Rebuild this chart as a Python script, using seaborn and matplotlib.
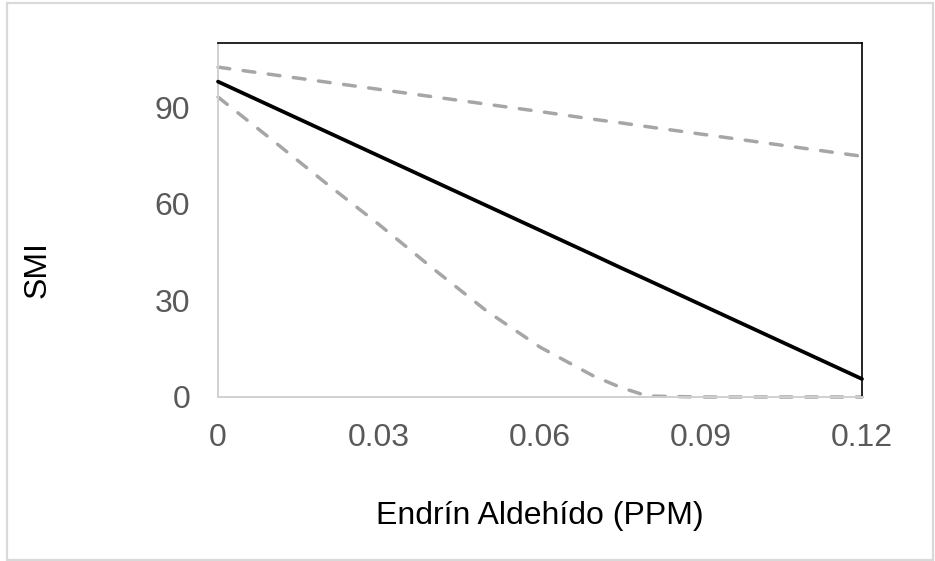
import numpy as np
import pandas as pd
import seaborn as sns
import matplotlib as mpl
import matplotlib.pyplot as plt
from matplotlib.patches import Rectangle

# Data
conc = [0.00, 0.01, 0.02, 0.03, 0.04, 0.05, 0.06, 0.07, 0.075, 0.08, 0.09, 0.10, 0.11, 0.12]
smi_fit = [98.0, 90.3, 82.6, 74.9, 67.2, 59.5, 51.8, 44.1, 40.2, 36.4, 28.7, 21.0, 13.3, 5.6]
smi_upper = [102.5, 100.2, 97.9, 95.6, 93.3, 91.0, 88.7, 86.3, 85.2, 84.0, 81.7, 79.4, 77.1, 74.8]
smi_lower = [93.2, 80.0, 66.6, 53.6, 40.0, 26.8, 15.5, 6.5, 3.0, 0.3, 0.0, 0.0, 0.0, 0.0]

x_ticks = [0, 0.03, 0.06, 0.09, 0.12]
x_tick_labels = ["0", "0.03", "0.06", "0.09", "0.12"]
y_ticks = [0, 30, 60, 90]


def main():
    sns.set_theme(style='white')
    mpl.rcParams['font.family'] = ['Liberation Sans', 'DejaVu Sans']

    df = pd.DataFrame({'conc': conc, 'fit': smi_fit, 'upper': smi_upper, 'lower': smi_lower})

    fig = plt.figure(figsize=(9.35, 5.61), dpi=100)
    ax = fig.add_axes([218 / 935, 164 / 561, 644 / 935, 354 / 561])

    band = '#A6A6A6'
    for col in ['upper', 'lower']:
        sns.lineplot(data=df, x='conc', y=col, ax=ax, color=band, linewidth=2.5,
                     linestyle=(0, (3.4, 3.9)), dash_capstyle='round', clip_on=False)
    sns.lineplot(data=df, x='conc', y='fit', ax=ax, color='black', linewidth=2.7,
                 clip_on=False, zorder=3)

    ax.set_xlim(0, 0.12)
    ax.set_ylim(0, 110)
    ax.set_xticks(x_ticks)
    ax.set_xticklabels(x_tick_labels)
    ax.set_yticks(y_ticks)
    ax.tick_params(axis='both', length=0, labelsize=23, labelcolor='#595959')
    ax.tick_params(axis='x', pad=19)
    ax.tick_params(axis='y', pad=20)

    ax.set_xlabel('Endrín Aldehído (PPM)', fontsize=23, color='black')
    ax.set_ylabel('SMI', fontsize=23, color='black')
    ax.xaxis.set_label_coords(0.5, -0.336)
    ax.xaxis.label.set_va('center')
    ax.yaxis.set_label_coords(-0.28, 0.359)
    ax.yaxis.label.set_va('center')

    for side in ['left', 'bottom']:
        ax.spines[side].set_color('#D0D0D0')
        ax.spines[side].set_linewidth(1.4)
    for side in ['top', 'right']:
        ax.spines[side].set_color('black')
        ax.spines[side].set_linewidth(1.2)

    # light frame round the whole chart area
    fig.patches.append(Rectangle((7 / 935, 1 - 560 / 561), 926 / 935, 557 / 561,
                                 transform=fig.transFigure, fill=False,
                                 edgecolor='#D9D9D9', linewidth=1.6))

    fig.savefig('out.png', dpi=100)


if __name__ == "__main__":
    main()
